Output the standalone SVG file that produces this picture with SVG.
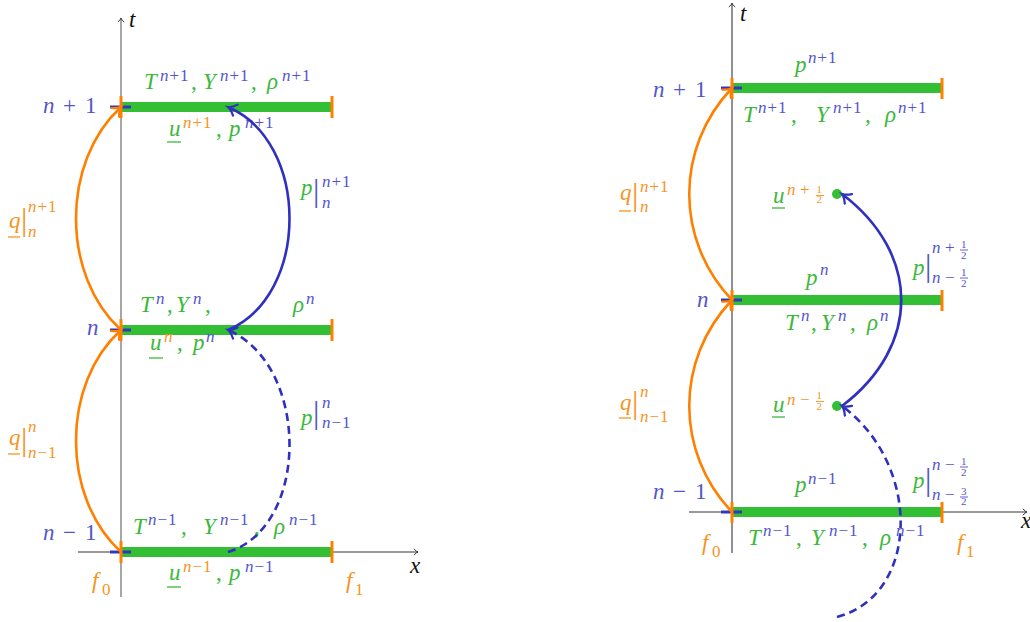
<svg xmlns="http://www.w3.org/2000/svg" width="1030" height="622" viewBox="0 0 1030 622">
<defs>
<style>
text{font-family:"Liberation Serif","DejaVu Serif",serif;font-size:23px;font-style:italic}
.s{font-size:17px;letter-spacing:1px}
.f{font-size:11px;font-style:normal;letter-spacing:0}
.u{font-style:normal}
.bb{font-size:32px;font-style:normal;letter-spacing:0}
.g{fill:#3cb83c}.b{fill:#5454cc}.o{fill:#f7931e}.k{fill:#111}
.bar{fill:#33bf33}
.ot{stroke:#ff8000;stroke-width:3}
.bt{stroke:#3535c0;stroke-width:3}
.ax{stroke:#777;stroke-width:1.3;fill:none}
.axk{stroke:#222;stroke-width:1;fill:none}
.oc{stroke:#ff8000;stroke-width:2.6;fill:none}
.bc{stroke:#3030c0;stroke-width:2.6;fill:none}
.dash{stroke-dasharray:8 5}
.ulg{stroke:#3cb83c;stroke-width:1.3}
.ulo{stroke:#f7931e;stroke-width:1.3}
.fb{stroke:#5454cc;stroke-width:0.9}
.fo{stroke:#f7931e;stroke-width:0.9}
</style>
<marker id="ab" markerUnits="userSpaceOnUse" markerWidth="20" markerHeight="20" viewBox="-10 -10 20 20" refX="0" refY="0" orient="auto" overflow="visible"><path d="M-8,-6 C-5,-2.5 -2,-0.6 0,0 C-2,0.6 -5,2.5 -8,6" fill="none" stroke="#3030c0" stroke-width="2.2" stroke-linecap="round"/></marker>
<marker id="ao" markerUnits="userSpaceOnUse" markerWidth="20" markerHeight="20" viewBox="-10 -10 20 20" refX="0" refY="0" orient="auto" overflow="visible"><path d="M-8,-6 C-5,-2.5 -2,-0.6 0,0 C-2,0.6 -5,2.5 -8,6" fill="none" stroke="#ff8000" stroke-width="2.2" stroke-linecap="round"/></marker>
<marker id="ax" markerUnits="userSpaceOnUse" markerWidth="10" markerHeight="10" viewBox="-5 -5 10 10" refX="0" refY="0" orient="auto" overflow="visible"><path d="M-4,-3.2 C-2.5,-1.2 -1,-0.3 0,0 C-1,0.3 -2.5,1.2 -4,3.2" fill="none" stroke="#333" stroke-width="1"/></marker>
</defs>
<rect width="1030" height="622" fill="#fff"/>

<!-- LEFT DIAGRAM -->
<g id="L-axes">
<path class="ax" d="M121,597 V18" marker-end="url(#ax)"/>
<path class="ax" d="M78,552 H418" marker-end="url(#ax)"/>
<text x="129" y="27" class="k">t</text>
<text x="410" y="573" class="k">x</text>
</g>

<g id="L-level-np1">
<rect class="bar" x="121" y="102" width="211" height="10"/>
<line class="bt" x1="110" y1="107" x2="131" y2="107"/>
<line class="ot" x1="121" y1="96" x2="121" y2="118"/>
<line class="ot" x1="332" y1="96" x2="332" y2="118"/>
<text class="b" y="113"><tspan x="43">n</tspan><tspan class="u" x="63">+</tspan><tspan class="u" x="85">1</tspan></text>
<text class="g" y="89"><tspan x="144">T</tspan><tspan class="s b" x="160" y="81">n<tspan class="u">+1</tspan></tspan><tspan class="u" x="191" y="89">,</tspan><tspan x="203">Y</tspan><tspan class="s b" x="220" y="81">n<tspan class="u">+1</tspan></tspan><tspan class="u" x="251" y="89">,</tspan><tspan x="267">ρ</tspan><tspan class="s b" x="282" y="81">n<tspan class="u">+1</tspan></tspan></text>
<text class="g" y="136"><tspan x="169">u</tspan><tspan class="s o" x="183" y="128">n<tspan class="u">+1</tspan></tspan><tspan class="u" x="216" y="136">,</tspan><tspan x="229">p</tspan><tspan class="s b" x="245" y="128">n<tspan class="u">+1</tspan></tspan></text>
<line class="ulg" x1="167" y1="142" x2="181" y2="142"/>
</g>

<g id="L-level-n">
<rect class="bar" x="121" y="325" width="211" height="10"/>
<line class="bt" x1="110" y1="330" x2="131" y2="330"/>
<line class="ot" x1="121" y1="319" x2="121" y2="341"/>
<line class="ot" x1="332" y1="319" x2="332" y2="341"/>
<text class="b" x="87" y="335">n</text>
<text class="g" y="312"><tspan x="140">T</tspan><tspan class="s b" x="156" y="304">n</tspan><tspan class="u" x="167" y="312">,</tspan><tspan x="176">Y</tspan><tspan class="s b" x="193" y="304">n</tspan><tspan class="u" x="205" y="312">,</tspan><tspan x="293">ρ</tspan><tspan class="s b" x="306" y="304">n</tspan></text>
<text class="g" y="350"><tspan x="150">u</tspan><tspan class="s o" x="164" y="342">n</tspan><tspan class="u" x="177" y="350">,</tspan><tspan x="193">p</tspan><tspan class="s b" x="206" y="342">n</tspan></text>
<line class="ulg" x1="149" y1="358" x2="163" y2="358"/>
</g>

<g id="L-level-nm1">
<rect class="bar" x="121" y="547" width="211" height="10"/>
<line class="bt" x1="110" y1="552" x2="131" y2="552"/>
<line class="ot" x1="121" y1="541" x2="121" y2="563"/>
<line class="ot" x1="332" y1="541" x2="332" y2="563"/>
<text class="b" y="540"><tspan x="43">n</tspan><tspan class="u" x="63">−</tspan><tspan class="u" x="85">1</tspan></text>
<text class="g" y="534"><tspan x="133">T</tspan><tspan class="s b" x="148" y="525">n<tspan class="u">−1</tspan></tspan><tspan class="u" x="181" y="534">,</tspan><tspan x="203">Y</tspan><tspan class="s b" x="220" y="525">n<tspan class="u">−1</tspan></tspan><tspan class="u" x="254" y="534">,</tspan><tspan x="274">ρ</tspan><tspan class="s b" x="289" y="525">n<tspan class="u">−1</tspan></tspan></text>
<text class="g" y="580"><tspan x="169">u</tspan><tspan class="s o" x="183" y="572">n<tspan class="u">−1</tspan></tspan><tspan class="u" x="216" y="580">,</tspan><tspan x="229">p</tspan><tspan class="s b" x="245" y="572">n<tspan class="u">−1</tspan></tspan></text>
<line class="ulg" x1="167" y1="587" x2="181" y2="587"/>
<text class="o" y="588"><tspan x="92">f</tspan><tspan class="s u" x="102" y="595">0</tspan></text>
<text class="o" y="588"><tspan x="346">f</tspan><tspan class="s u" x="355" y="595">1</tspan></text>
</g>

<g id="L-flux-labels">
<text class="o" y="228"><tspan x="9">q</tspan><tspan class="bb" x="21" y="230">|</tspan><tspan class="s" x="28" y="212">n<tspan class="u">+1</tspan></tspan><tspan class="s" x="28" y="237">n</tspan></text>
<line class="ulo" x1="8" y1="237" x2="20" y2="237"/>
<text class="o" y="445"><tspan x="9">q</tspan><tspan class="bb" x="21" y="450">|</tspan><tspan class="s" x="28" y="432">n</tspan><tspan class="s" x="28" y="458">n<tspan class="u">−1</tspan></tspan></text>
<line class="ulo" x1="8" y1="454" x2="20" y2="454"/>
<text class="g" y="195"><tspan x="301">p</tspan><tspan class="bb b" x="313" y="201">|</tspan><tspan class="s b" x="322" y="187">n<tspan class="u">+1</tspan></tspan><tspan class="s b" x="322" y="208">n</tspan></text>
<text class="g" y="425"><tspan x="301">p</tspan><tspan class="bb b" x="313" y="423">|</tspan><tspan class="s b" x="322" y="408">n</tspan><tspan class="s b" x="322" y="428">n<tspan class="u">−1</tspan></tspan></text>
</g>

<!-- RIGHT DIAGRAM -->
<g id="R-axes">
<path class="axk" d="M732,553 V3" marker-end="url(#ax)"/>
<path class="ax" d="M689,512 H1027" marker-end="url(#ax)"/>
<text x="740" y="21" class="k">t</text>
<text x="1021" y="528" class="k">x</text>
</g>

<g id="R-level-np1">
<rect class="bar" x="732" y="83" width="210" height="10"/>
<line class="bt" x1="721" y1="88" x2="742" y2="88"/>
<line class="ot" x1="732" y1="78" x2="732" y2="99"/>
<line class="ot" x1="942" y1="78" x2="942" y2="99"/>
<text class="b" y="97"><tspan x="653">n</tspan><tspan class="u" x="673">+</tspan><tspan class="u" x="695">1</tspan></text>
<text class="g" y="72"><tspan x="795">p</tspan><tspan class="s b" x="808" y="63">n<tspan class="u">+1</tspan></tspan></text>
<text class="g" y="122"><tspan x="743">T</tspan><tspan class="s b" x="758" y="113">n<tspan class="u">+1</tspan></tspan><tspan class="u" x="791" y="122">,</tspan><tspan x="816">Y</tspan><tspan class="s b" x="833" y="113">n<tspan class="u">+1</tspan></tspan><tspan class="u" x="865" y="122">,</tspan><tspan x="885">ρ</tspan><tspan class="s b" x="898" y="113">n<tspan class="u">+1</tspan></tspan></text>
</g>

<g id="R-u-np12">
<circle class="bar" cx="837" cy="194" r="5"/>
<text class="g" y="203"><tspan x="773">u</tspan><tspan class="s o" x="787" y="195">n</tspan><tspan class="s o u" x="800" y="195">+</tspan><tspan class="f o" x="816.5" y="193">1</tspan><tspan class="f o" x="816.5" y="203">2</tspan></text>
<line class="ulg" x1="772" y1="208" x2="785" y2="208"/>
<line class="fo" x1="816" y1="195.5" x2="824" y2="195.5"/>
</g>

<g id="R-level-n">
<rect class="bar" x="732" y="295" width="210" height="10"/>
<line class="bt" x1="721" y1="300" x2="742" y2="300"/>
<line class="ot" x1="732" y1="290" x2="732" y2="311"/>
<line class="ot" x1="942" y1="290" x2="942" y2="311"/>
<text class="b" x="697" y="307">n</text>
<text class="g" y="285"><tspan x="806">p</tspan><tspan class="s b" x="820" y="275">n</tspan></text>
<text class="g" y="330"><tspan x="785">T</tspan><tspan class="s b" x="801" y="321">n</tspan><tspan class="u" x="811" y="330">,</tspan><tspan x="821">Y</tspan><tspan class="s b" x="838" y="321">n</tspan><tspan class="u" x="850" y="330">,</tspan><tspan x="867">ρ</tspan><tspan class="s b" x="880" y="321">n</tspan></text>
</g>

<g id="R-u-nm12">
<circle class="bar" cx="837" cy="406" r="5"/>
<text class="g" y="412"><tspan x="773">u</tspan><tspan class="s o" x="787" y="405">n</tspan><tspan class="s o u" x="800" y="405">−</tspan><tspan class="f o" x="816.5" y="399">1</tspan><tspan class="f o" x="816.5" y="410">2</tspan></text>
<line class="ulg" x1="772" y1="417" x2="785" y2="417"/>
<line class="fo" x1="816" y1="401.5" x2="824" y2="401.5"/>
</g>

<g id="R-level-nm1">
<rect class="bar" x="732" y="507" width="210" height="10"/>
<line class="bt" x1="721" y1="512" x2="742" y2="512"/>
<line class="ot" x1="732" y1="502" x2="732" y2="523"/>
<line class="ot" x1="942" y1="502" x2="942" y2="523"/>
<text class="b" y="499"><tspan x="653">n</tspan><tspan class="u" x="673">−</tspan><tspan class="u" x="695">1</tspan></text>
<text class="g" y="492"><tspan x="795">p</tspan><tspan class="s b" x="808" y="484">n<tspan class="u">−1</tspan></tspan></text>
<text class="g" y="545"><tspan x="748">T</tspan><tspan class="s b" x="763" y="536">n<tspan class="u">−1</tspan></tspan><tspan class="u" x="796" y="545">,</tspan><tspan x="811">Y</tspan><tspan class="s b" x="829" y="536">n<tspan class="u">−1</tspan></tspan><tspan class="u" x="862" y="545">,</tspan><tspan x="880">ρ</tspan><tspan class="s b" x="896" y="536">n<tspan class="u">−1</tspan></tspan></text>
<text class="o" y="550"><tspan x="702">f</tspan><tspan class="s u" x="712" y="557">0</tspan></text>
<text class="o" y="550"><tspan x="957">f</tspan><tspan class="s u" x="966" y="557">1</tspan></text>
</g>

<g id="R-flux-labels">
<text class="o" y="200"><tspan x="620">q</tspan><tspan class="bb" x="632" y="205">|</tspan><tspan class="s" x="640" y="192">n<tspan class="u">+1</tspan></tspan><tspan class="s" x="640" y="212">n</tspan></text>
<line class="ulo" x1="619" y1="211" x2="631" y2="211"/>
<text class="o" y="410"><tspan x="620">q</tspan><tspan class="bb" x="632" y="413">|</tspan><tspan class="s" x="640" y="397">n</tspan><tspan class="s" x="640" y="422">n<tspan class="u">−1</tspan></tspan></text>
<line class="ulo" x1="619" y1="418" x2="631" y2="418"/>
<text class="g" y="275"><tspan x="913">p</tspan><tspan class="bb b" x="925" y="276">|</tspan><tspan class="s b" x="932" y="253">n</tspan><tspan class="s b u" x="945" y="253">+</tspan><tspan class="f b" x="961" y="248">1</tspan><tspan class="f b" x="961" y="259">2</tspan><tspan class="s b" x="932" y="283">n</tspan><tspan class="s b u" x="945" y="283">−</tspan><tspan class="f b" x="961" y="276">1</tspan><tspan class="f b" x="961" y="287">2</tspan></text>
<line class="fb" x1="960" y1="250" x2="968" y2="250"/>
<line class="fb" x1="960" y1="278" x2="968" y2="278"/>
<text class="g" y="488"><tspan x="913">p</tspan><tspan class="bb b" x="925" y="490">|</tspan><tspan class="s b" x="932" y="470">n</tspan><tspan class="s b u" x="945" y="470">−</tspan><tspan class="f b" x="961" y="465">1</tspan><tspan class="f b" x="961" y="476">2</tspan><tspan class="s b" x="932" y="500">n</tspan><tspan class="s b u" x="945" y="500">−</tspan><tspan class="f b" x="961" y="495">3</tspan><tspan class="f b" x="961" y="505">2</tspan></text>
<line class="fb" x1="960" y1="467" x2="968" y2="467"/>
<line class="fb" x1="960" y1="497" x2="968" y2="497"/>
</g>

<g id="connectors">
<path class="oc" d="M121,552 C61,497 61,384 121,330" marker-end="url(#ao)"/>
<path class="oc" d="M121,330 C61,275 61,162 121,107" marker-end="url(#ao)"/>
<path class="bc" d="M228,330 C310,295 310,142 228,107" marker-end="url(#ab)"/>
<path class="bc dash" d="M228,552 C310,527 310,365 228,330" marker-end="url(#ab)"/>
<path class="oc" d="M732,512 C675,452 675,360 732,300" marker-end="url(#ao)"/>
<path class="oc" d="M732,300 C675,240 675,148 732,88" marker-end="url(#ao)"/>
<path class="bc" d="M842,406 C921,346 921,254 842,194" marker-end="url(#ab)"/>
<path class="bc dash" d="M837,617 C920,595 922,465 842,406" marker-end="url(#ab)"/>
</g>
</svg>
